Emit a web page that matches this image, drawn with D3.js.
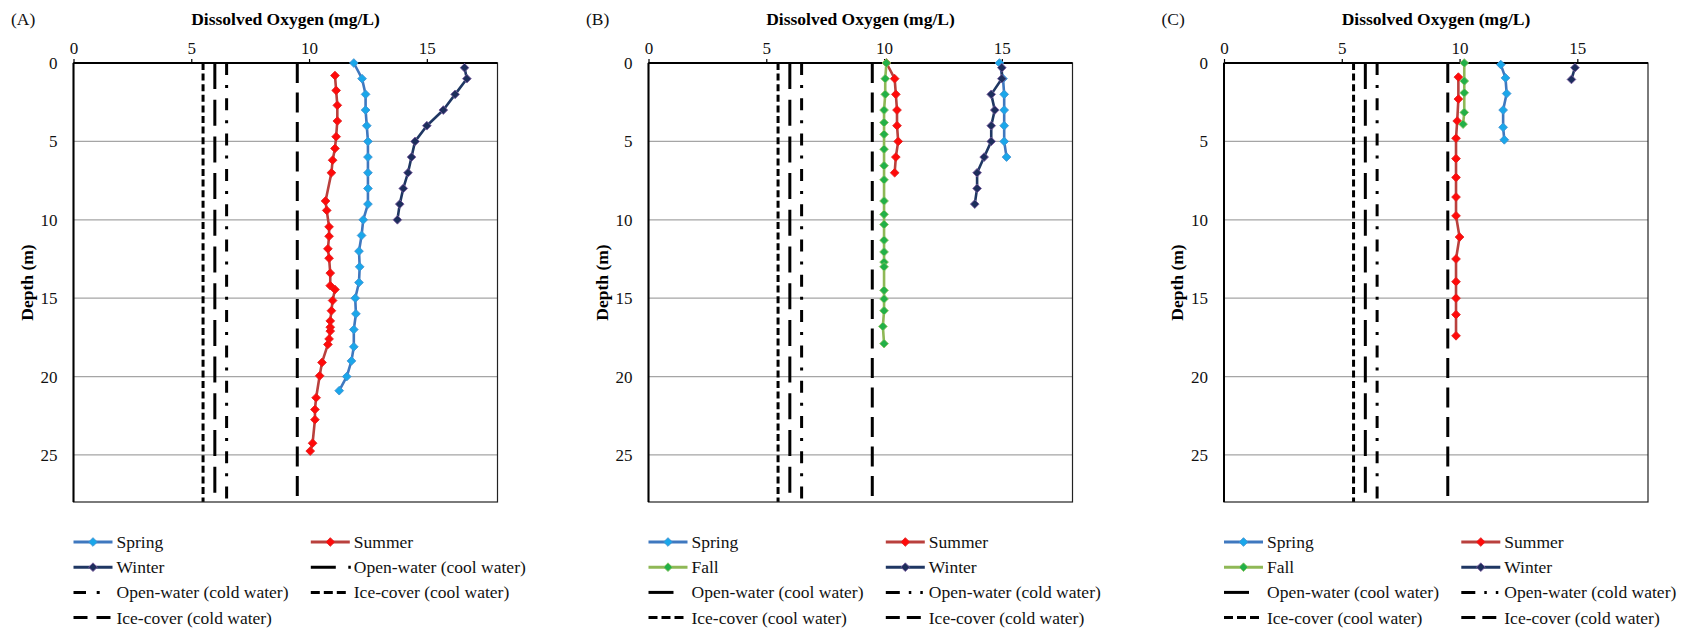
<!DOCTYPE html>
<html>
<head>
<meta charset="utf-8">
<script src="https://cdn.jsdelivr.net/npm/d3@7/dist/d3.min.js"></script>
<style>
  html, body { margin: 0; padding: 0; background: #fff; }
  svg { display: block; font-family: "Liberation Serif", "Times New Roman", serif; }
</style>
</head>
<body>
<svg id="chart" width="1694" height="631"></svg>
<script>
// ---- axis ticks ----
const doTicks = [0, 5, 10, 15];
const depthTicks = [0, 5, 10, 15, 20, 25];

// ---- dissolved-oxygen guideline values (mg/L) ----
const openWaterCool = 6.0;
const openWaterCold = 6.5;
const iceCoverCool = 5.5;
const iceCoverCold = 9.5;

// ---- Panel A profiles ----
const aSpringDepth = [0, 1, 2, 3, 4, 5, 6, 7, 8, 9, 10, 11, 12, 13, 14, 15, 16, 17, 18.1, 19, 20, 20.9];
const aSpringDO = [11.9, 12.25, 12.4, 12.4, 12.45, 12.5, 12.5, 12.5, 12.5, 12.5, 12.3, 12.23, 12.12, 12.15, 12.12, 11.96, 11.99, 11.9, 11.9, 11.8, 11.6, 11.28];
const aSummerDepth = [0.8, 1.75, 2.7, 3.7, 4.7, 5.45, 6.2, 7.0, 8.8, 9.4, 10.45, 11.05, 11.85, 12.45, 13.4, 14.2, 14.45, 15.15, 15.8, 16.45, 16.85, 17.1, 17.6, 17.95, 19.1, 19.95, 21.35, 22.1, 22.75, 24.25, 24.75];
const aSummerDO = [11.1, 11.15, 11.2, 11.2, 11.15, 11.1, 11.0, 10.95, 10.7, 10.75, 10.85, 10.85, 10.8, 10.85, 10.9, 10.9, 11.1, 11.0, 10.95, 10.9, 10.9, 10.9, 10.85, 10.8, 10.55, 10.45, 10.3, 10.25, 10.25, 10.15, 10.05];
const aWinterDepth = [0.3, 1, 2, 3, 4, 5, 6, 7, 8, 9, 10];
const aWinterDO = [16.6, 16.7, 16.2, 15.7, 15.0, 14.5, 14.35, 14.2, 14.0, 13.85, 13.75];

// ---- Panel B profiles ----
const bSpringDepth = [0, 1, 2, 3, 4, 5, 6];
const bSpringDO = [14.9, 15.05, 15.1, 15.1, 15.1, 15.1, 15.2];
const bSummerDepth = [0, 1, 2, 3, 4, 5, 6, 7];
const bSummerDO = [10.1, 10.45, 10.5, 10.55, 10.55, 10.6, 10.5, 10.45];
const bFallDepth = [0, 1, 2, 3, 3.8, 4.55, 5.5, 6.55, 7.45, 8.8, 9.65, 10.3, 11.3, 12.05, 12.7, 13.0, 14.5, 15.05, 15.8, 16.8, 17.9];
const bFallDO = [10.1, 10.05, 10.05, 10.0, 10.0, 10.0, 10.0, 10.0, 10.0, 10.0, 10.0, 10.0, 10.0, 10.0, 10.0, 10.0, 10.0, 10.0, 10.0, 9.95, 10.0];
const bWinterDepth = [0.3, 1, 2, 3, 4, 5, 6, 7, 8, 9];
const bWinterDO = [15.0, 15.0, 14.55, 14.7, 14.55, 14.55, 14.25, 13.95, 13.95, 13.85];

// ---- Panel C profiles ----
const cSpringDepth = [0.1, 0.95, 1.95, 3.0, 4.1, 4.9];
const cSpringDO = [11.75, 11.95, 12.0, 11.85, 11.85, 11.9];
const cSummerDepth = [0.9, 2.3, 3.7, 4.8, 6.1, 7.3, 8.55, 9.75, 11.1, 12.5, 13.95, 15, 16.05, 17.4];
const cSummerDO = [9.95, 9.95, 9.9, 9.85, 9.85, 9.85, 9.85, 9.85, 10.0, 9.85, 9.85, 9.85, 9.85, 9.85];
const cFallDepth = [0, 1.15, 1.9, 3.15, 3.9];
const cFallDO = [10.2, 10.2, 10.2, 10.2, 10.15];
const cWinterDepth = [0.3, 1.05];
const cWinterDO = [14.9, 14.75];

// ---- styles ----
const seasonStyle = {
  Spring: { line: "#3f78bf", fill: "#1aa7ea", edge: "#3f8fd0" },
  Summer: { line: "#b9403d", fill: "#ff0a0a", edge: "#e02020" },
  Fall:   { line: "#8fb856", fill: "#22b048", edge: "#8cc35e" },
  Winter: { line: "#1f3763", fill: "#1d2e5c", edge: "#7a5a9e" }
};
const guideStyle = {
  "Open-water (cool water)": { value: openWaterCool, dash: "26,10.7" },
  "Open-water (cold water)": { value: openWaterCold, dash: "12,10,3,10.3" },
  "Ice-cover (cool water)":  { value: iceCoverCool, dash: "7,3.6" },
  "Ice-cover (cold water)":  { value: iceCoverCold, dash: "20,9.5" }
};
// dash patterns used for the short legend keys
const legendDashA = {
  "Open-water (cool water)": "25,12.5,3.5,100",
  "Open-water (cold water)": "12.5,10.7,3,100",
  "Ice-cover (cool water)": "9,4,9,4,9,100",
  "Ice-cover (cold water)": "14,9,14,100"
};
const legendDashBC = {
  "Open-water (cool water)": "25,100",
  "Open-water (cold water)": "14,9,2.5,9,2.5,100",
  "Ice-cover (cool water)": "9,4,9,4,9,100",
  "Ice-cover (cold water)": "14,7,14,100"
};

const panels = [
  {
    label: "(A)", x0: 73.5,
    series: [
      { name: "Spring", depth: aSpringDepth, val: aSpringDO },
      { name: "Summer", depth: aSummerDepth, val: aSummerDO },
      { name: "Winter", depth: aWinterDepth, val: aWinterDO }
    ],
    legend: [["Spring", "Summer"], ["Winter", "Open-water (cool water)"],
             ["Open-water (cold water)", "Ice-cover (cool water)"], ["Ice-cover (cold water)"]],
    legendDash: legendDashA
  },
  {
    label: "(B)", x0: 648.5,
    series: [
      { name: "Spring", depth: bSpringDepth, val: bSpringDO },
      { name: "Summer", depth: bSummerDepth, val: bSummerDO },
      { name: "Fall", depth: bFallDepth, val: bFallDO },
      { name: "Winter", depth: bWinterDepth, val: bWinterDO }
    ],
    legend: [["Spring", "Summer"], ["Fall", "Winter"],
             ["Open-water (cool water)", "Open-water (cold water)"],
             ["Ice-cover (cool water)", "Ice-cover (cold water)"]],
    legendDash: legendDashBC
  },
  {
    label: "(C)", x0: 1224,
    series: [
      { name: "Spring", depth: cSpringDepth, val: cSpringDO },
      { name: "Summer", depth: cSummerDepth, val: cSummerDO },
      { name: "Fall", depth: cFallDepth, val: cFallDO },
      { name: "Winter", depth: cWinterDepth, val: cWinterDO }
    ],
    legend: [["Spring", "Summer"], ["Fall", "Winter"],
             ["Open-water (cool water)", "Open-water (cold water)"],
             ["Ice-cover (cool water)", "Ice-cover (cold water)"]],
    legendDash: legendDashBC
  }
];

const svg = d3.select("#chart");
const plotW = 424, plotTop = 63, plotBottom = 502;
// square marker turned 45° so it reads as an even diamond
const marker = d3.symbol().type(d3.symbolSquare).size(38);

panels.forEach(p => {
  const x = d3.scaleLinear().domain([0, 18]).range([p.x0, p.x0 + plotW]);
  const y = d3.scaleLinear().domain([0, 28]).range([plotTop, plotBottom]);
  const g = svg.append("g");

  // panel letter and axis titles
  g.append("text").attr("x", p.x0 - 62.5).attr("y", 24.5)
    .attr("font-size", 17.5).attr("fill", "#111").text(p.label);
  g.append("text").attr("x", (x.range()[0] + x.range()[1]) / 2).attr("y", 24.5)
    .attr("text-anchor", "middle").attr("font-size", 17.5).attr("font-weight", "bold")
    .text("Dissolved Oxygen (mg/L)");
  g.append("text")
    .attr("transform", `translate(${p.x0 - 47},${(plotTop + plotBottom) / 2}) rotate(-90)`)
    .attr("text-anchor", "middle").attr("dy", "0.35em")
    .attr("font-size", 17.5).attr("font-weight", "bold").text("Depth (m)");

  // horizontal gridlines
  g.append("g").selectAll("line").data(depthTicks.filter(d => d > 0)).join("line")
    .attr("x1", x(0)).attr("x2", x(18)).attr("y1", d => y(d)).attr("y2", d => y(d))
    .attr("stroke", "#a5a5a5").attr("stroke-width", 1.3);

  // top axis
  const ax = g.append("g").attr("transform", `translate(0,${plotTop})`)
    .call(d3.axisTop(x).tickValues(doTicks).tickSize(4).tickPadding(5).tickSizeOuter(0));
  ax.select(".domain").remove();
  ax.selectAll("line").attr("stroke", "#000").attr("stroke-width", 1.2);
  ax.selectAll("text").attr("font-size", 17).attr("font-family", "Liberation Serif")
    .attr("fill", "#111");

  // left axis labels
  const ay = g.append("g").attr("transform", `translate(${p.x0},0)`)
    .call(d3.axisLeft(y).tickValues(depthTicks).tickSize(0).tickPadding(16));
  ay.select(".domain").remove();
  ay.selectAll("text").attr("font-size", 17).attr("font-family", "Liberation Serif")
    .attr("fill", "#111");

  // guideline verticals
  Object.entries(guideStyle).forEach(([k, s]) => {
    g.append("line")
      .attr("x1", x(s.value)).attr("x2", x(s.value))
      .attr("y1", y(0)).attr("y2", y(28))
      .attr("stroke", "#000").attr("stroke-width", 3)
      .attr("stroke-dasharray", s.dash);
  });

  // plot frame
  g.append("rect").attr("x", x(0)).attr("y", plotTop).attr("width", plotW).attr("height", plotBottom - plotTop)
    .attr("fill", "none").attr("stroke", "#222").attr("stroke-width", 1.2);
  g.append("line").attr("x1", x(0)).attr("x2", x(0)).attr("y1", plotTop).attr("y2", plotBottom)
    .attr("stroke", "#000").attr("stroke-width", 2);
  g.append("line").attr("x1", x(0)).attr("x2", x(18)).attr("y1", plotTop).attr("y2", plotTop)
    .attr("stroke", "#000").attr("stroke-width", 1.8);

  // seasonal profiles
  const line = d3.line().x(d => x(d[1])).y(d => y(d[0]));
  p.series.forEach(s => {
    const st = seasonStyle[s.name];
    const pts = s.depth.map((d, i) => [d, s.val[i]]);
    g.append("path").datum(pts).attr("d", line)
      .attr("fill", "none").attr("stroke", st.line).attr("stroke-width", 2.6)
      .attr("stroke-linejoin", "round");
    g.append("g").selectAll("path").data(pts).join("path")
      .attr("d", marker)
      .attr("transform", d => `translate(${x(d[1])},${y(d[0])}) rotate(45)`)
      .attr("fill", st.fill).attr("stroke", st.edge).attr("stroke-width", 0.8);
  });

  // legend
  const colX = [p.x0, p.x0 + 237.3];
  p.legend.forEach((row, r) => {
    row.forEach((name, c) => {
      const lx = colX[c], ly = 542 + r * 25.2;
      const lg = g.append("g");
      if (seasonStyle[name]) {
        const st = seasonStyle[name];
        lg.append("line").attr("x1", lx).attr("x2", lx + 39).attr("y1", ly).attr("y2", ly)
          .attr("stroke", st.line).attr("stroke-width", 3);
        lg.append("path").attr("d", marker)
          .attr("transform", `translate(${lx + 19.5},${ly}) rotate(45)`)
          .attr("fill", st.fill).attr("stroke", st.edge).attr("stroke-width", 0.8);
      } else {
        lg.append("line").attr("x1", lx).attr("x2", lx + 40).attr("y1", ly).attr("y2", ly)
          .attr("stroke", "#000").attr("stroke-width", 3)
          .attr("stroke-dasharray", p.legendDash[name]);
      }
      lg.append("text").attr("x", lx + 43).attr("y", ly).attr("dy", "0.34em")
        .attr("font-size", 17.5).attr("fill", "#111").text(name);
    });
  });
});
</script>
</body>
</html>
